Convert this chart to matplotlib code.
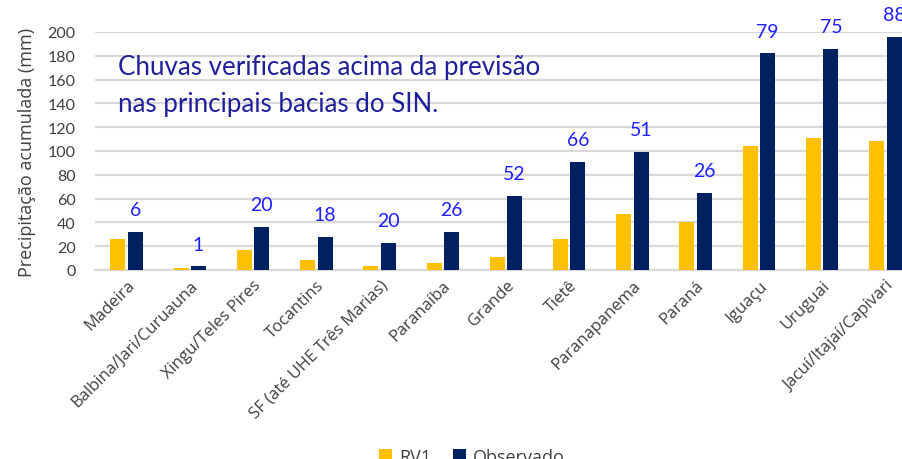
import matplotlib
matplotlib.use("Agg")
import matplotlib.pyplot as plt
import numpy as np

bacias = ["Madeira", "Balbina/Jari/Curuauna", "Xingu/Teles Pires", "Tocantins",
          "SF (até UHE Três Marias)", "Paranaíba", "Grande", "Tietê",
          "Paranapanema", "Paraná", "Iguaçu", "Uruguai", "Jacuí/Itajaí/Capivari"]
rv1 = [26, 2, 17, 8, 3, 6, 11, 26, 47, 40, 104, 111, 108]
observado = [32, 3, 36, 28, 23, 32, 62, 91, 99, 65, 182, 186, 196]
rotulos = [6, 1, 20, 18, 20, 26, 52, 66, 51, 26, 79, 75, 88]

cor_rv1 = "#FFC000"
cor_obs = "#002060"

fig = plt.figure(figsize=(9.02, 4.60), dpi=100)
ax = fig.add_axes([0.1053, 0.4109, 0.9113, 0.5174])

x = np.arange(len(bacias))
w = 0.237
off = 0.138
ax.bar(x - off, rv1, w, color=cor_rv1, label="RV1", zorder=3)
bars = ax.bar(x + off, observado, w, color=cor_obs, label="Observado", zorder=3)

# rotulos azuis acima das barras do observado
for b, r in zip(bars, rotulos):
    ax.annotate(str(r), (b.get_x() + b.get_width() / 2, b.get_height()),
                xytext=(0, 10), textcoords="offset points", ha="center",
                va="bottom", color="#1F1FFF", fontsize=14, family="Lato",
                annotation_clip=False)

ax.set_xlim(-0.5, len(bacias) - 0.5)
ax.set_ylim(0, 200)
ax.set_yticks(range(0, 201, 20))
ax.yaxis.grid(True, color="#D9D9D9", linewidth=1.6, zorder=0)
ax.set_axisbelow(True)
for s in ["top", "right", "left"]:
    ax.spines[s].set_visible(False)
ax.spines["bottom"].set_color("#D9D9D9")
ax.spines["bottom"].set_linewidth(1.6)
ax.tick_params(axis="both", length=0)
ax.tick_params(axis="y", pad=14, labelsize=11.5, labelcolor="#404040")
for t in ax.get_yticklabels():
    t.set_family("Lato")

ax.set_xticks(x)
ax.set_xticklabels(bacias, rotation=45, ha="right", rotation_mode="anchor",
                   fontsize=12, family="Open Sans", color="#404040")
ax.tick_params(axis="x", pad=5)

ax.set_ylabel("Precipitação acumulada (mm)", family="Open Sans", fontsize=13,
              color="#404040", labelpad=8)

ax.text(118, 460 - 86, "Chuvas verificadas acima da previsão\nnas principais bacias do SIN.",
        transform=None, fontsize=18.6, family="Lato", color="#1F1F9A",
        va="center", ha="left", linespacing=1.6)

fig.legend(loc="center", bbox_to_anchor=(472 / 902, 1 - 458 / 460), ncol=2,
           frameon=False, handlelength=0.7, handleheight=0.7,
           handletextpad=0.4, columnspacing=1.2,
           prop={"family": "Open Sans", "size": 13})
for t in fig.legends[0].get_texts():
    t.set_color("#404040")

fig.savefig("out.png", dpi=100)
